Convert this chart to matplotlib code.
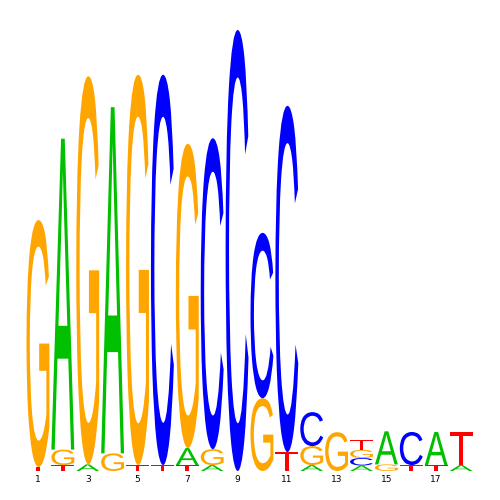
import matplotlib
matplotlib.use("Agg")
import matplotlib.pyplot as plt
import numpy as np
from matplotlib.font_manager import FontProperties
from matplotlib.patches import PathPatch
from matplotlib.textpath import TextPath
from matplotlib.transforms import Affine2D

# information content (bits) per base at each of the 18 positions
positions = list(range(1, 19))
A_bits = [0.000, 1.410, 0.030, 1.570, 0.000, 0.000, 0.077, 0.027, 0.000,
          0.000, 0.000, 0.027, 0.000, 0.025, 0.150, 0.000, 0.150, 0.027]
C_bits = [0.000, 0.000, 0.000, 0.000, 0.000, 1.770, 0.000, 1.410, 2.000,
          0.750, 1.570, 0.154, 0.000, 0.034, 0.000, 0.150, 0.000, 0.000]
G_bits = [1.120, 0.070, 1.760, 0.080, 1.770, 0.000, 1.380, 0.072, 0.000,
          0.330, 0.000, 0.086, 0.176, 0.037, 0.030, 0.000, 0.000, 0.000]
T_bits = [0.018, 0.027, 0.000, 0.000, 0.027, 0.027, 0.027, 0.000, 0.000,
          0.000, 0.086, 0.000, 0.000, 0.045, 0.000, 0.027, 0.027, 0.150]
tick_positions = [1, 3, 5, 7, 9, 11, 13, 15, 17]

COLORS = {"A": "#00C000", "C": "#0000FF", "G": "#FFA500", "T": "#FF0000"}
FONT = FontProperties(family="Liberation Sans", weight="normal")
LETTER_W = 0.92


def draw_letter(ax, letter, x, y, h):
    tp = TextPath((0, 0), letter, size=1, prop=FONT)
    bb = tp.get_extents()
    tr = (Affine2D().translate(-bb.x0, -bb.y0)
          .scale(LETTER_W / bb.width, h / bb.height)
          .translate(x - LETTER_W / 2, y))
    ax.add_patch(PathPatch(tr.transform_path(tp), facecolor=COLORS[letter],
                           edgecolor="none", lw=0))


fig = plt.figure(figsize=(5, 5), dpi=100)
ax = fig.add_axes([0.051, 0.058, 0.896, 0.882])

for i, pos in enumerate(positions):
    col = {"A": A_bits[i], "C": C_bits[i], "G": G_bits[i], "T": T_bits[i]}
    y = 0.0
    for letter, h in sorted(col.items(), key=lambda kv: kv[1]):
        if h <= 0:
            continue
        draw_letter(ax, letter, pos, y, h)
        y += h

ax.set_xlim(0.5, 18.5)
ax.set_ylim(0, 2.0)
ax.set_xticks(tick_positions)
ax.set_xticklabels([str(p) for p in tick_positions], fontsize=6.5)
ax.tick_params(axis="x", length=0, pad=3)
ax.set_yticks([])
for s in ax.spines.values():
    s.set_visible(False)

fig.savefig("out.png", dpi=100)
